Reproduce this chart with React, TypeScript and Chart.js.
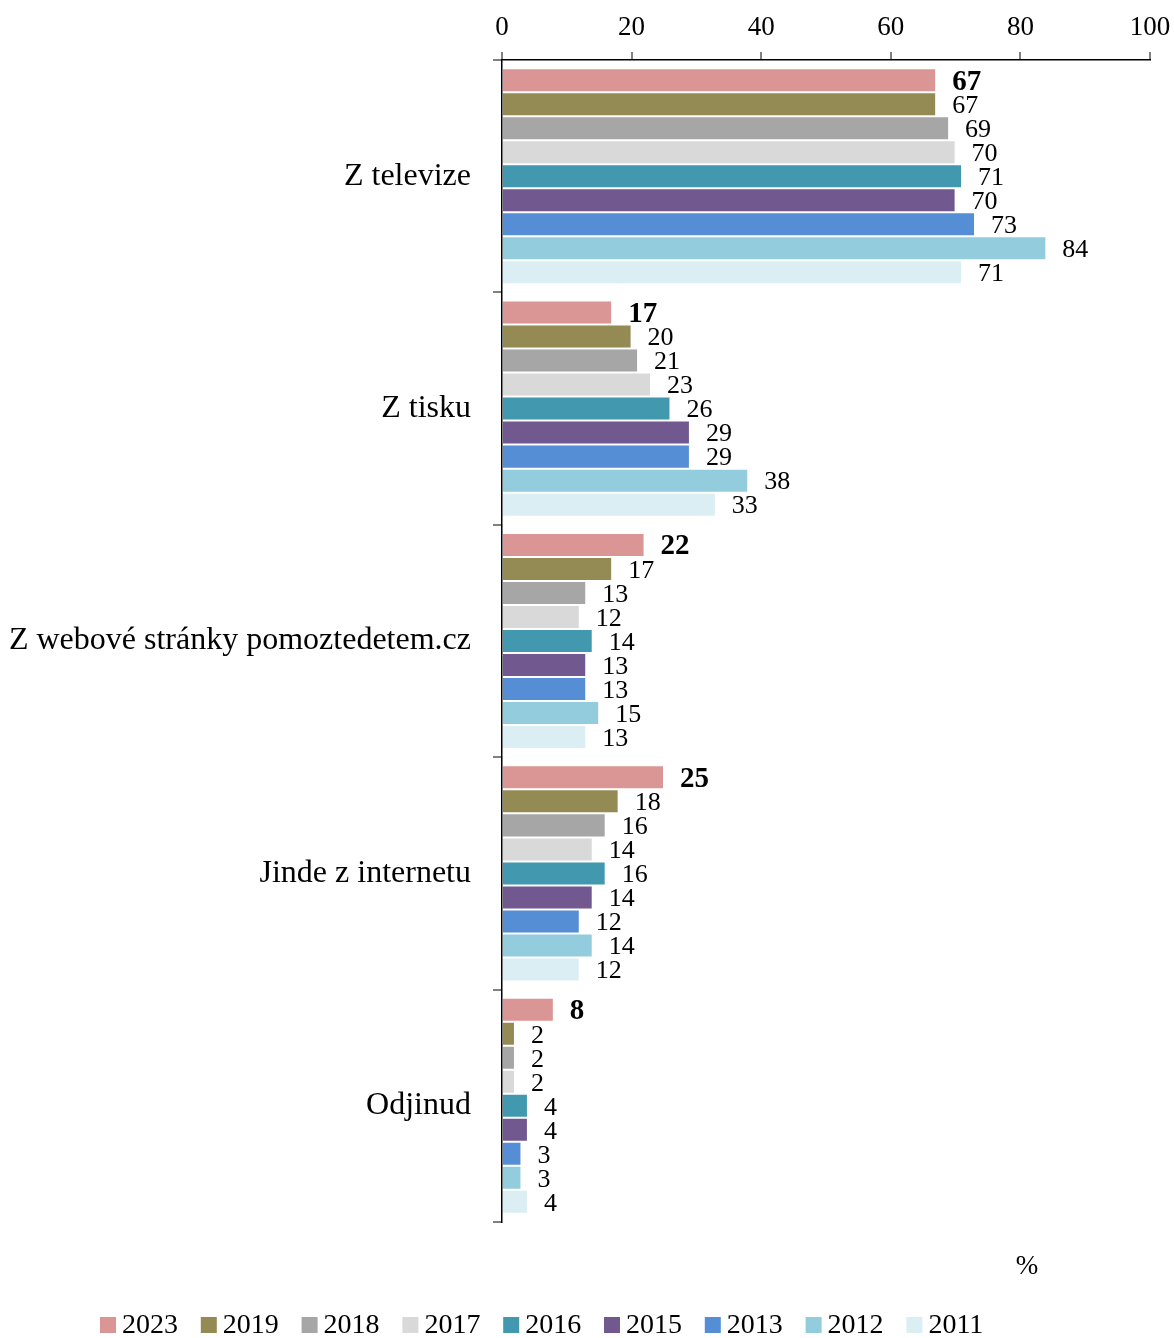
import React, { useEffect, useRef } from "react";
import { Chart, registerables } from "chart.js";

Chart.register(...registerables);

const categories = [
  "Z televize",
  "Z tisku",
  "Z webové stránky pomoztedetem.cz",
  "Jinde z internetu",
  "Odjinud",
];

const years = ["2023", "2019", "2018", "2017", "2016", "2015", "2013", "2012", "2011"];

const values2023 = [67, 17, 22, 25, 8];
const values2019 = [67, 20, 17, 18, 2];
const values2018 = [69, 21, 13, 16, 2];
const values2017 = [70, 23, 12, 14, 2];
const values2016 = [71, 26, 14, 16, 4];
const values2015 = [70, 29, 13, 14, 4];
const values2013 = [73, 29, 13, 12, 3];
const values2012 = [84, 38, 15, 14, 3];
const values2011 = [71, 33, 13, 12, 4];

const seriesValues = [
  values2023,
  values2019,
  values2018,
  values2017,
  values2016,
  values2015,
  values2013,
  values2012,
  values2011,
];

const colors = [
  "#DA9694",
  "#948A54",
  "#A6A6A6",
  "#D9D9D9",
  "#4198AF",
  "#71588F",
  "#558ED5",
  "#93CDDD",
  "#DBEEF4",
];

const xTicks = [0, 20, 40, 60, 80, 100];

const FONT = "'Liberation Serif', 'Times New Roman', serif";

const dataLabelPlugin = {
  id: "dataLabels",
  afterDatasetsDraw(chart: any) {
    const ctx = chart.ctx;
    ctx.save();
    ctx.fillStyle = "#000";
    ctx.textAlign = "left";
    ctx.textBaseline = "middle";
    chart.data.datasets.forEach((ds: any, di: number) => {
      const meta = chart.getDatasetMeta(di);
      ctx.font = di === 0 ? `bold 29px ${FONT}` : `26px ${FONT}`;
      meta.data.forEach((el: any, i: number) => {
        ctx.fillText(String(ds.data[i]), el.x + 16, el.y + 2);
      });
    });
    ctx.restore();
  },
};

const legendPlugin = {
  id: "customLegend",
  afterDraw(chart: any) {
    const ctx = chart.ctx;
    ctx.save();
    ctx.font = `28px ${FONT}`;
    ctx.textBaseline = "middle";
    ctx.textAlign = "left";
    const box = 16;
    const gap = 6;
    const spacing = 22.8;
    const y = chart.height - 13;
    let x = 100;
    chart.data.datasets.forEach((ds: any) => {
      ctx.fillStyle = ds.backgroundColor;
      ctx.fillRect(x, y - box / 2, box, box);
      ctx.fillStyle = "#000";
      const w = ctx.measureText(ds.label).width;
      ctx.fillText(ds.label, x + box + gap, y + 1);
      x += box + gap + w + spacing;
    });
    // unit label
    ctx.font = `27px ${FONT}`;
    ctx.textAlign = "center";
    ctx.fillText("%", chart.chartArea.right - 123, chart.chartArea.bottom + 45);
    ctx.restore();
  },
};

export default function App() {
  const ref = useRef<HTMLCanvasElement | null>(null);

  useEffect(() => {
    document.body.style.margin = "0";
    if (!ref.current) return;
    const chart = new Chart(ref.current, {
      type: "bar",
      data: {
        labels: categories,
        datasets: years.map((y, i) => ({
          label: y,
          data: seriesValues[i],
          backgroundColor: colors[i],
          borderColor: "rgba(255,255,255,0.45)",
          borderWidth: 1,
          categoryPercentage: 0.93,
          barPercentage: 1,
        })),
      },
      options: {
        indexAxis: "y",
        responsive: false,
        animation: false,
        layout: { padding: { left: 0, right: 24, top: 0, bottom: 116 } },
        plugins: {
          legend: { display: false },
          tooltip: { enabled: false },
        },
        scales: {
          x: {
            position: "top",
            min: 0,
            max: 100,
            afterBuildTicks(scale: any) {
              scale.ticks = xTicks.map((v) => ({ value: v }));
            },
            afterFit(scale: any) {
              scale.height = 60;
              scale.paddingLeft = 0;
              scale.paddingRight = 0;
            },
            ticks: {
              color: "#000",
              font: { family: FONT, size: 27 },
              padding: 8,
            },
            grid: {
              drawOnChartArea: false,
              tickLength: 8,
              color: "#808080",
              lineWidth: 2,
            },
            border: { color: "#000", width: 1.5 },
          },
          y: {
            afterFit(scale: any) {
              scale.width = 502;
              scale.paddingTop = 0;
              scale.paddingBottom = 0;
            },
            ticks: {
              color: "#000",
              font: { family: FONT, size: 32 },
              padding: 22,
            },
            grid: {
              offset: true,
              drawOnChartArea: false,
              tickLength: 9,
              color: "#808080",
              lineWidth: 2,
            },
            border: { color: "#000", width: 1.5 },
          },
        },
      },
      plugins: [dataLabelPlugin, legendPlugin],
    });
    return () => chart.destroy();
  }, []);

  return (
    <div style={{ width: 1174, height: 1338 }}>
      <canvas ref={ref} width={1174} height={1338} />
    </div>
  );
}
